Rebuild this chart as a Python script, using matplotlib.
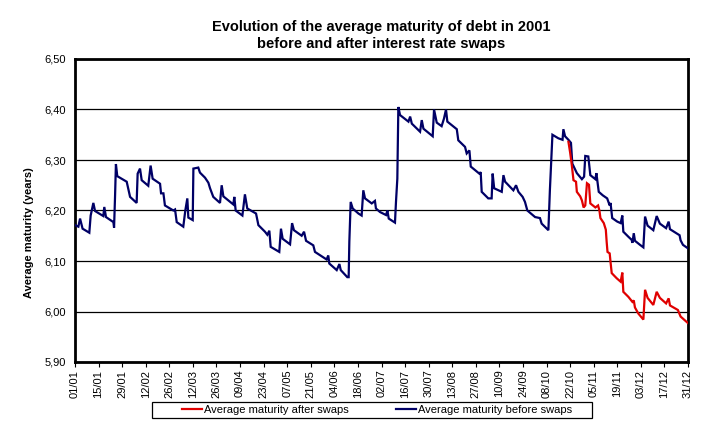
import matplotlib
matplotlib.use("Agg")
import matplotlib.pyplot as plt
from matplotlib.lines import Line2D
from matplotlib.patches import Rectangle

plt.rcParams['font.family'] = ['Liberation Sans', 'DejaVu Sans']

title_line1 = "Evolution of the average maturity of debt in 2001"
title_line2 = "before and after interest rate swaps"
y_label = "Average maturity (years)"
series_after_name = "Average maturity after swaps"
series_before_name = "Average maturity before swaps"

# day of year (0 = 01/01) and value
before_days = [0, 2, 3, 4.5, 8.5, 9.3, 10.9, 11.9, 16.8, 17.4, 18.4, 22.8, 23.2, 23.8, 24.3, 25.1,
               30.7, 32.7, 36.6, 37.2, 38.6, 39.6, 43.5, 44.9, 46.1, 50.5, 51.1, 52.5, 53.4, 58.4,
               59.4, 60.4, 64.3, 65.5, 66.7, 67.3, 69.9, 70.3, 73.2, 74.2, 77.2, 79.2, 80.2, 82.1,
               86.1, 87.1, 88.1, 94.0, 94.6, 95.4, 99.4, 100.9, 102.3, 107.5, 108.9, 112.8, 114.2,
               115.4, 116.2, 121.3, 122.3, 123.3, 127.7, 128.9, 130.0, 134.6, 136.0, 137.2, 141.5,
               142.5, 149.4, 150.4, 151.0, 155.4, 157.0, 157.8, 161.7, 162.5, 162.9, 163.7, 164.9,
               168.3, 170.2, 171.2, 172.2, 176.2, 178.1, 178.7, 181.1, 184.7, 185.5, 186.3, 190.0,
               190.6, 191.4, 192.0, 193.0, 198.0, 199.0, 200.0, 204.9, 205.9, 206.9, 212.4, 213.2,
               214.8, 217.7, 219.1, 220.3, 221.1, 226.7, 227.6, 231.6, 232.6, 234.2, 235.0, 240.1,
               240.9, 241.5, 245.4, 247.4, 248.0, 248.9, 253.4, 254.4, 255.4, 260.3, 261.9, 263.3,
               265.8, 267.2, 268.6, 273.2, 276.1, 277.1, 281.1, 282, 283.5, 287, 289.5, 290, 291,
               293, 294.5, 295.3, 296.7, 298, 301, 302.3, 303, 304.8, 306, 309, 309.6, 311, 313.4,
               316, 317.5, 318, 319, 322, 324, 325, 325.6, 328.6, 330.5, 331, 331.8, 332.5, 335.5,
               337.5, 338.5, 340, 343.4, 345.4, 347.3, 351, 352.5, 353.3, 358, 359, 359.6, 361, 364]
before_vals = [6.171, 6.168, 6.184, 6.164, 6.156, 6.190, 6.215, 6.199, 6.189, 6.207, 6.187, 6.177,
               6.166, 6.230, 6.292, 6.268, 6.257, 6.227, 6.215, 6.273, 6.283, 6.260, 6.249, 6.289,
               6.263, 6.253, 6.234, 6.234, 6.210, 6.200, 6.202, 6.177, 6.168, 6.200, 6.224, 6.186,
               6.181, 6.283, 6.285, 6.275, 6.265, 6.255, 6.244, 6.227, 6.215, 6.250, 6.228, 6.212,
               6.227, 6.200, 6.190, 6.232, 6.204, 6.194, 6.171, 6.158, 6.152, 6.160, 6.128, 6.118,
               6.164, 6.144, 6.133, 6.175, 6.161, 6.150, 6.158, 6.140, 6.131, 6.118, 6.103, 6.111,
               6.095, 6.082, 6.094, 6.082, 6.068, 6.068, 6.138, 6.217, 6.204, 6.194, 6.190, 6.240,
               6.224, 6.214, 6.219, 6.204, 6.197, 6.191, 6.200, 6.184, 6.176, 6.217, 6.263, 6.405,
               6.389, 6.376, 6.386, 6.372, 6.356, 6.379, 6.362, 6.347, 6.400, 6.374, 6.367, 6.382,
               6.400, 6.376, 6.361, 6.339, 6.326, 6.313, 6.319, 6.287, 6.273, 6.276, 6.237, 6.224,
               6.224, 6.273, 6.244, 6.237, 6.270, 6.257, 6.240, 6.250, 6.237, 6.227, 6.217, 6.200,
               6.187, 6.185, 6.174, 6.161, 6.241, 6.350, 6.343, 6.340, 6.361, 6.347, 6.340, 6.334,
               6.293, 6.283, 6.274, 6.262, 6.267, 6.308, 6.307, 6.270, 6.262, 6.274, 6.237, 6.230,
               6.224, 6.210, 6.215, 6.185, 6.178, 6.175, 6.190, 6.158, 6.148, 6.142, 6.136, 6.155,
               6.140, 6.132, 6.127, 6.188, 6.170, 6.161, 6.189, 6.174, 6.165, 6.178, 6.163, 6.153,
               6.151, 6.141, 6.132, 6.125]

after_days = [293, 294, 295, 296, 297.5, 298, 300, 301, 302, 303, 304, 305.2, 306, 309, 310.6,
              311.4, 312, 314, 315.2, 315.7, 316.2, 317.5, 318, 318.7, 321.6, 324, 325, 325.6,
              328.6, 331, 331.8, 332.5, 334.5, 337.5, 338.5, 340, 343.4, 345.4, 347.3, 351, 352.5,
              353.3, 358, 359.6, 364]
after_vals = [6.336, 6.315, 6.290, 6.260, 6.257, 6.237, 6.228, 6.220, 6.206, 6.210, 6.254, 6.251,
              6.214, 6.206, 6.210, 6.200, 6.185, 6.175, 6.162, 6.138, 6.118, 6.115, 6.098, 6.076,
              6.066, 6.059, 6.077, 6.039, 6.029, 6.019, 6.022, 6.008, 5.996, 5.984, 6.043, 6.027,
              6.013, 6.039, 6.027, 6.016, 6.026, 6.012, 6.003, 5.990, 5.977]

x_tick_labels = ["01/01", "15/01", "29/01", "12/02", "26/02", "12/03", "26/03", "09/04", "23/04",
                 "07/05", "21/05", "04/06", "18/06", "02/07", "16/07", "30/07", "13/08", "27/08",
                 "10/09", "24/09", "08/10", "22/10", "05/11", "19/11", "03/12", "17/12", "31/12"]
y_ticks = [5.90, 6.00, 6.10, 6.20, 6.30, 6.40, 6.50]
y_tick_labels = ["5,90", "6,00", "6,10", "6,20", "6,30", "6,40", "6,50"]

blue = "#000066"
red = "#e00000"

W, H = 708, 444
fig = plt.figure(figsize=(W / 100, H / 100), dpi=100)
ax = fig.add_axes([75 / W, 1 - 362 / H, (688 - 75) / W, (362 - 59) / H])

ax.plot(before_days, before_vals, color=blue, lw=1.6, solid_joinstyle='miter', zorder=3)
ax.plot(after_days, after_vals, color=red, lw=1.6, solid_joinstyle='miter', zorder=4)

ax.set_xlim(0, 364)
ax.set_ylim(5.90, 6.50)
ax.set_yticks(y_ticks)
ax.set_yticklabels(y_tick_labels, fontsize=8)
ax.set_xticks([14 * i for i in range(len(x_tick_labels))])
ax.set_xticklabels(x_tick_labels, rotation=90, fontsize=8)
ax.tick_params(axis='y', length=0, pad=6.5)
ax.tick_params(axis='x', length=3.5, width=0.8, pad=2, direction='out')
ax.grid(axis='y', color='black', lw=0.9)
ax.set_axisbelow(True)
for s in ax.spines.values():
    s.set_linewidth(2)
    s.set_color('black')

fig.text(381.5 / W, 1 - 27 / H, title_line1, ha='center', va='center', fontsize=10.5,
         fontweight='bold')
fig.text(381.5 / W, 1 - 44 / H, title_line2, ha='center', va='center', fontsize=10.5,
         fontweight='bold')
fig.text(29 / W, 1 - 233 / H, y_label, rotation=90, ha='center', va='center',
         fontsize=8, fontweight='bold')

# legend box
fig.patches.append(Rectangle((152 / W, 1 - 417.5 / H), (592 - 152) / W, 15.5 / H,
                             transform=fig.transFigure, facecolor='white',
                             edgecolor='black', lw=0.9))
handles = [Line2D([], [], color=red, lw=1.6), Line2D([], [], color=blue, lw=1.6)]
leg = fig.legend(handles, [series_after_name, series_before_name], loc='center left',
                 bbox_to_anchor=(182 / W, 1 - 409.5 / H), ncol=2, fontsize=8, frameon=False,
                 handlelength=1.8, handletextpad=0.15, columnspacing=4.3, borderpad=0,
                 borderaxespad=0)

fig.savefig("out.png", dpi=100)
